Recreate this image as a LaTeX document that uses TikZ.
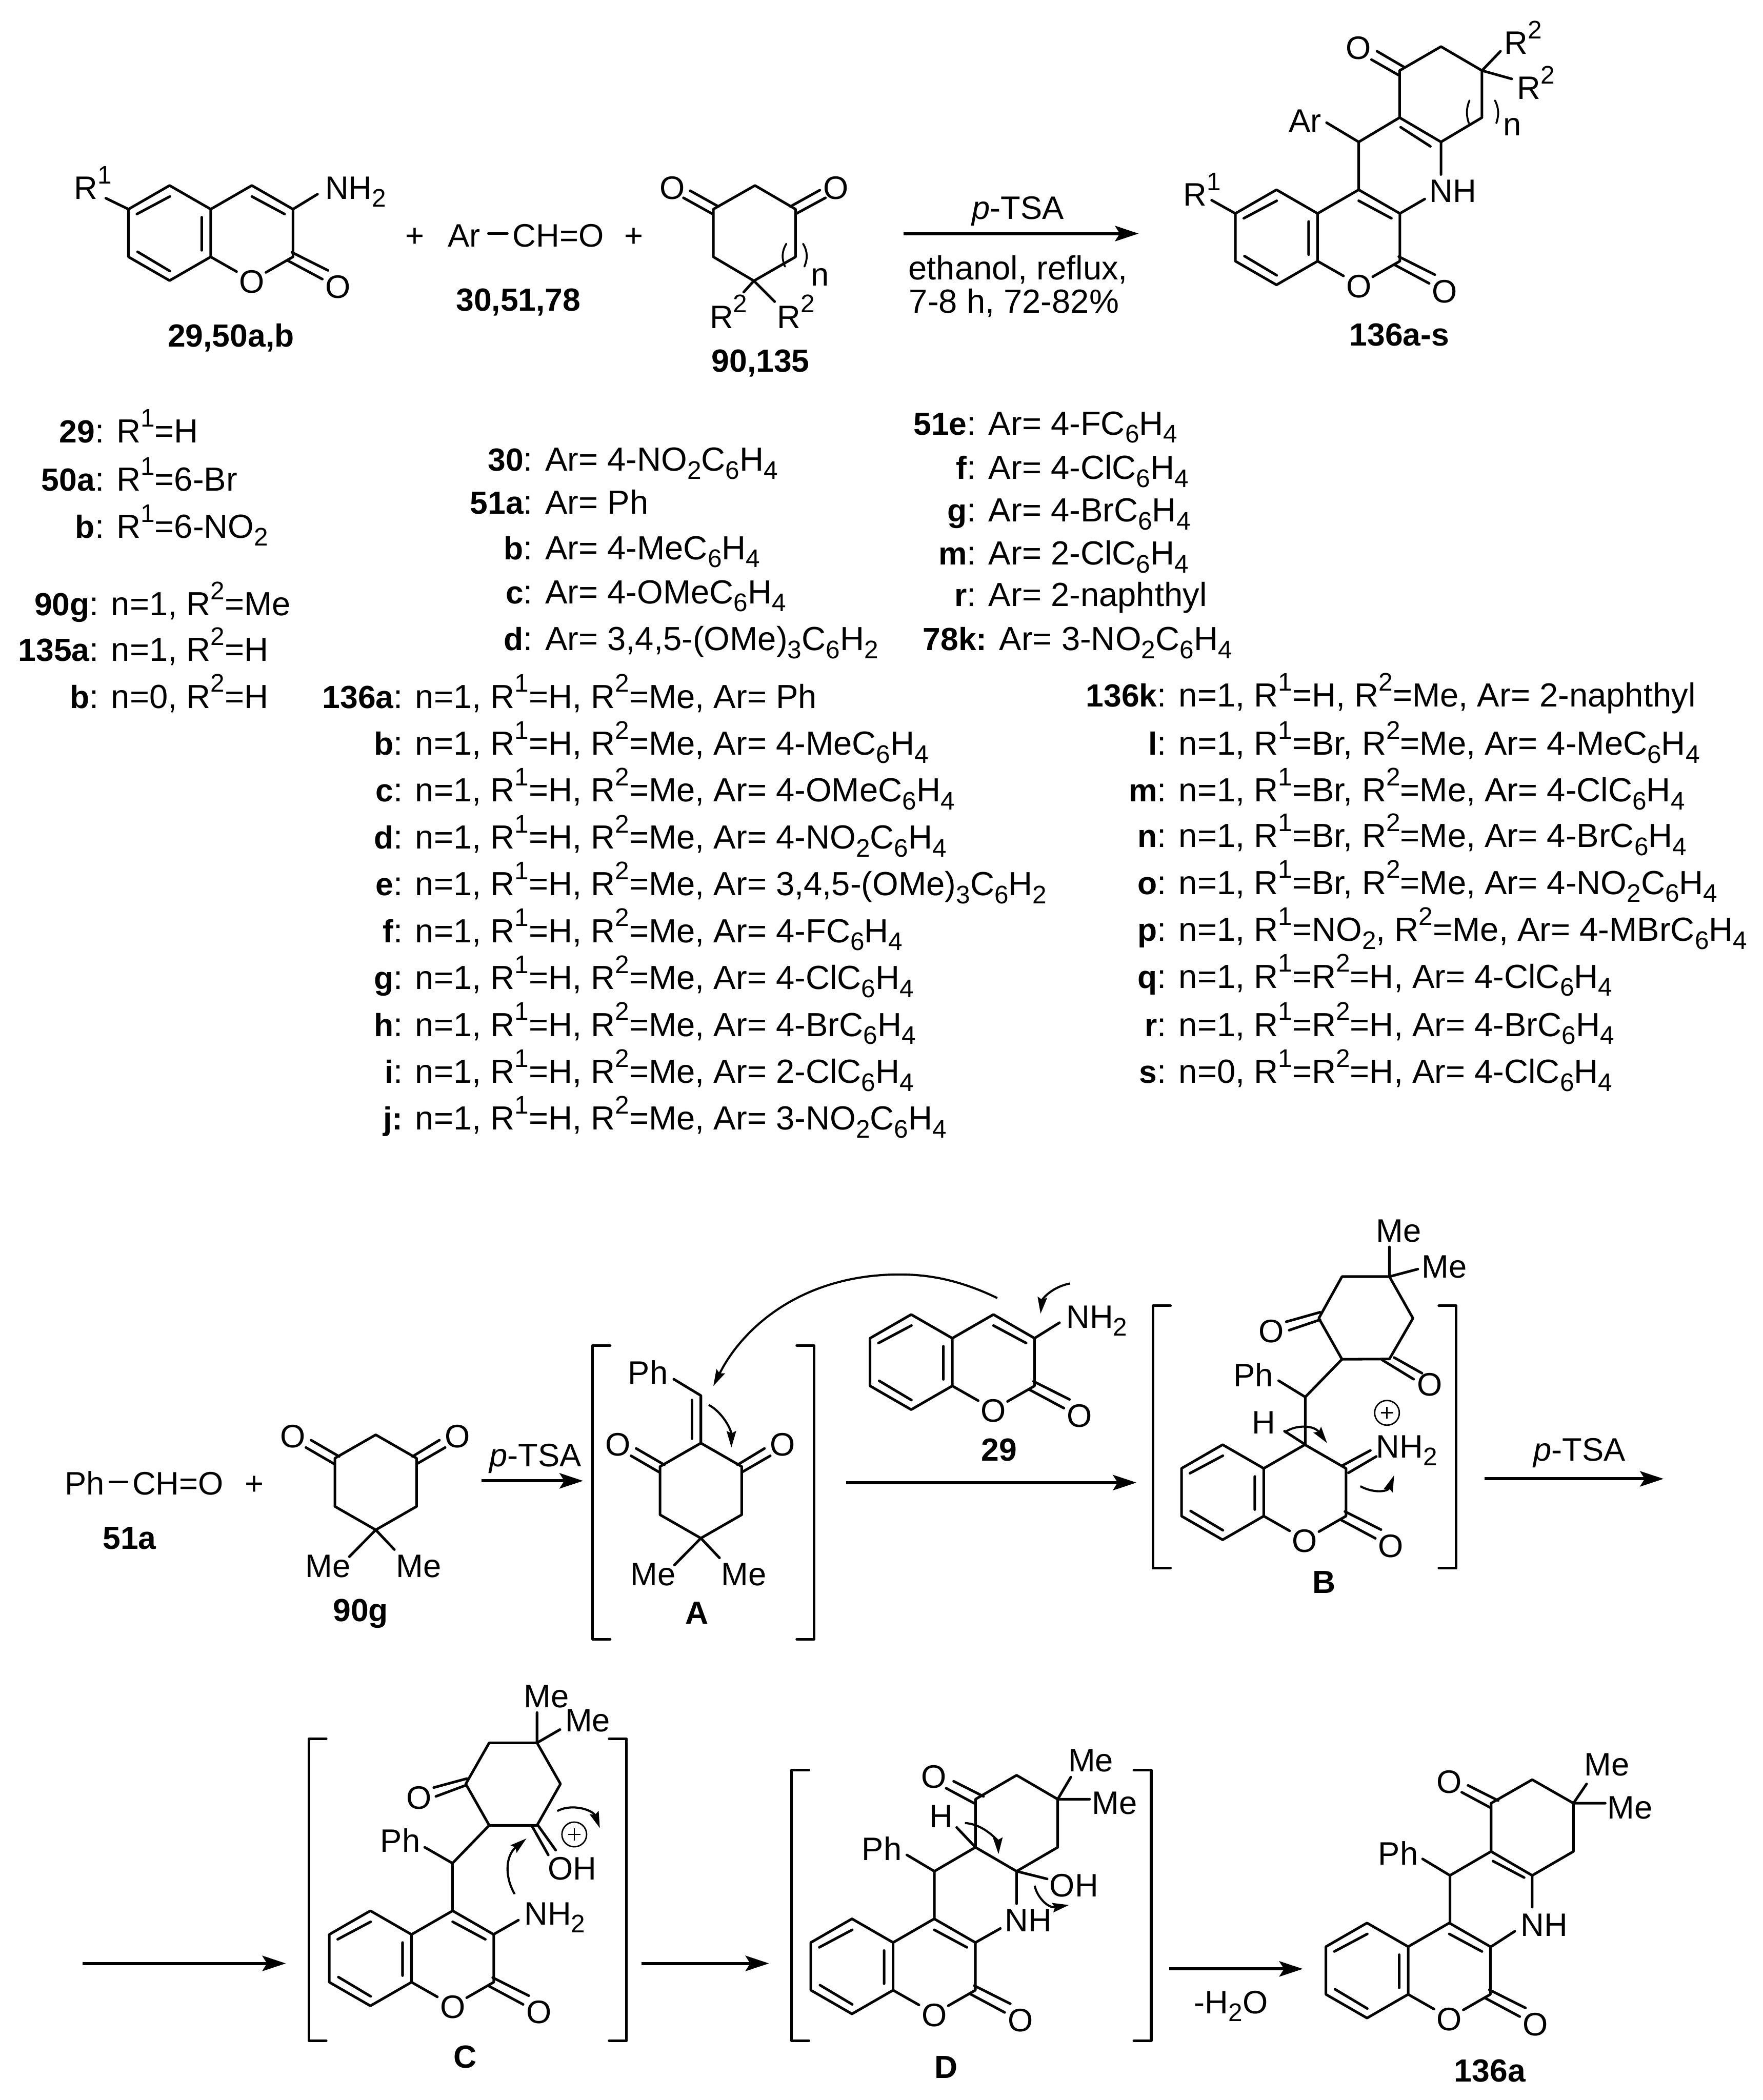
\documentclass[tikz,border=0pt]{standalone}
\usepackage{fontspec}
\setmainfont{Liberation Sans}
\usetikzlibrary{arrows.meta}
\newcommand\upi[1]{\raisebox{.48em}{\fontsize{10.8}{11}\selectfont #1}}
\newcommand\dni[1]{\raisebox{-.24em}{\fontsize{10.8}{11}\selectfont #1}}
\newcommand\lb[1]{{\fontsize{13.6}{16}\selectfont\bfseries #1}}
\tikzset{
  bond/.style={line width=1.1pt,line join=round,line cap=round},
  rxn/.style={line width=1.3pt,-{Stealth[length=10pt,width=6.5pt,inset=2pt]}},
  cur/.style={line width=.9pt,-{Stealth[length=7pt,width=4pt,inset=1pt]}},
  txt/.style={inner sep=0pt,outer sep=0pt,font=\fontsize{13.8}{16}\selectfont,text height=9.9pt,text depth=0pt},
  lbl/.style={txt,font=\fontsize{13.6}{16}\selectfont\bfseries},
  cond/.style={txt,font=\fontsize{14.2}{16}\selectfont},
  lft/.style={txt,anchor=west},
  lst/.style={cond,anchor=west},
  plusc/.style={circle,draw,line width=.6pt,minimum size=10.5pt,inner sep=0pt}
}
% coumarin: origin at the upper fusion atom
\newcommand\coumbase[1]{
  \draw[bond] (0,0)--(-30.7,-17.7)--(-61.4,0)--(-61.4,35.6)--(-30.7,53.3)--(0,35.6)--cycle;
  \draw[bond] (0,0)--(30.7,-17.7)--(61.4,0)--(61.4,35.6)--(41.2,47.2);
  \draw[bond] (0,35.6)--(19.3,46.6);
  \draw[bond] (-55.1,3.6)--(-30.5,-9.5) (-54.6,31.8)--(-30.5,46.2) (-6.7,6)--(-6.7,30.7);
  \draw[bond] (60.6,32.2)--(87.5,45.7) (57.2,38.2)--(83.3,52.2);
  \node[txt] (#1-O) at (30.7,54) {O};
  \node[txt] (#1-Ox) at (95,57.8) {O};
}
\newcommand\coum[1]{\coumbase{#1}\draw[bond] (30.7,-9.5)--(55.1,3.6);}
% dione ring: origin at CH2 apex
\newcommand\dione[1]{
  \draw[bond] (0,0)--(30.5,17.5)--(30.5,53.5)--(0,71)--(-30.5,53.5)--(-30.5,17.5)--cycle;
  \draw[bond] (-48.3,4)--(-27.3,16.2) (-52.1,9.5)--(-31.1,21.7);
  \draw[bond] (47.5,4)--(27.4,16.2) (51.8,9.5)--(30.7,21.7);
  \node[txt] (#1-OL) at (-61.8,0.7) {O};
  \node[txt] (#1-OR) at (61,0.7) {O};
  \draw[bond] (0,71)--(-19.7,91) (0,71)--(13.9,85.7);
  \node[txt] (#1-ML) at (-35.7,97.7) {Me};
  \node[txt] (#1-MR) at (32,97.7) {Me};
}
\newcommand\brk[4]{% x left, x right, y top, y bottom
  \draw[bond] (#1+13,#3)--(#1,#3)--(#1,#4)--(#1+13,#4);
  \draw[bond] (#2-13,#3)--(#2,#3)--(#2,#4)--(#2-13,#4);
}
\newcommand\ent[4]{\node[lst] (#1) at (#2,#3) {#4};}
\begin{document}
\begin{tikzpicture}[x=0.02cm,y=-0.02cm]
\useasboundingbox (0,0) rectangle (1316,1568);

% ---------- top equation
\begin{scope}[shift={(157.3,156.2)}]\coum{a}\end{scope}
\node[lft] (a-R) at (55.5,140) {R\upi{1}};
\draw[bond] (79,148)--(95.9,156.2);
\node[lft] (a-N) at (242.7,140) {NH\dni{2}};
\draw[bond] (218.7,156.2)--(237,145);
\node[lbl] (a-lab) at (172.4,250.4) {29,50a,b};

\node[txt] (p1) at (309.6,175.7) {+};
\node[lft] (arx) at (334.4,175.7) {Ar};
\node[lft] (cho) at (382.7,175.7) {CH=O};
\path (arx.east)++(6,-1.5) coordinate (ar1) (cho.west)++(-4,-1.5) coordinate (cho1);
\draw[bond] (ar1)--(cho1);
\node[txt] (p2) at (473,175.7) {+};
\node[lbl] (b-lab) at (387,223.3) {30,51,78};

% cyclic dione with n
\draw[bond] (532.5,156.2)--(563.6,138.5)--(593.9,156.2)--(593.9,191.8)--(562.8,209.7)--(532.5,191.8)--cycle;
\draw[bond] (515.2,142.4)--(536.3,154.2) (510.2,147.7)--(532,159.8);
\draw[bond] (612,142)--(590,154.2) (616.2,147.7)--(593.9,159.8);
\node[txt] (c-OL) at (501.8,140) {O};
\node[txt] (c-OR) at (624.2,140) {O};
\draw[bond] (562.8,209.7)--(555.2,218.1) (562.8,209.7)--(578.3,225.2);
\node[lft] (c-RL) at (529.9,236.4) {R\upi{2}};
\node[lft] (c-RR) at (580.3,236.4) {R\upi{2}};
\draw[bond,line width=.8pt] (587,182) .. controls (583.5,188) and (583.5,193) .. (586,199);
\draw[bond,line width=.8pt] (599.5,182) .. controls (603,188) and (603,193) .. (600.5,199);
\node[txt] (c-n) at (612,204.7) {n};
\node[lbl] (c-lab) at (567.8,269) {90,135};

\node[txt] (t1) at (760,155) {\textit{p}-TSA};
\coordinate (ra1) at (674.6,174.4); \coordinate (ra2) at (850,174.4);
\draw[rxn] (ra1)--(ra2);
\node[cond] (t2) at (760,200) {ethanol, reflux,};
\node[cond] (t3) at (757,225) {7-8 h, 72-82\%};

% product 136a-s
\begin{scope}[shift={(983.6,159.4)}]\coum{d}\end{scope}
\node[lft] (d-R) at (883.5,145) {R\upi{1}};
\draw[bond] (904.5,149.5)--(922.2,159.4);
\node[txt] (d-NH) at (1084.5,142.4) {NH};
\draw[bond] (1045,159.4)--(1063.6,148.6);
\draw[bond] (1014.3,141.7)--(1014.3,106)--(1044.8,87.8)--(1075.7,106)--(1075.7,130.3);
\draw[bond] (1045.6,95)--(1067.8,109.3);
\draw[bond] (1014.3,106)--(990.3,91.6);
\node[txt] (d-Ar) at (974.4,89.7) {Ar};
\draw[bond] (1044.8,87.8)--(1044.8,52.7)--(1075.7,34.8)--(1106.3,52.7)--(1106.3,87.8)--(1075.7,106);
\draw[bond] (1028,38.3)--(1048,50) (1023.8,44.5)--(1043.9,56);
\node[txt] (d-O) at (1014.2,35.5) {O};
\draw[bond] (1106.3,52.7)--(1120.1,38.3) (1106.3,52.7)--(1128.5,58.9);
\node[lft] (d-R2a) at (1123,31.8) {R\upi{2}};
\node[lft] (d-R2b) at (1132.5,65.4) {R\upi{2}};
\draw[bond,line width=.8pt] (1097,75) .. controls (1094.5,81) and (1094.5,86) .. (1096.5,92);
\draw[bond,line width=.8pt] (1116,75) .. controls (1119,81) and (1119,86) .. (1117,92);
\node[txt] (d-n) at (1129,92.5) {n};
\node[lbl] (d-lab) at (1044.7,249.5) {136a-s};

% ---------- substituent lists
\ent{l1}{87}{322}{\llap{\lb{29}: }R\upi{1}=H}
\ent{l2}{87}{358}{\llap{\lb{50a}: }R\upi{1}=6-Br}
\ent{l3}{87}{393}{\llap{\lb{b}: }R\upi{1}=6-NO\dni{2}}
\ent{l4}{83}{451}{\llap{\lb{90g}: }n=1, R\upi{2}=Me}
\ent{l5}{83}{485}{\llap{\lb{135a}: }n=1, R\upi{2}=H}
\ent{l6}{83}{520}{\llap{\lb{b}: }n=0, R\upi{2}=H}

\ent{m1}{407}{343}{\llap{\lb{30}: }Ar= 4-NO\dni{2}C\dni{6}H\dni{4}}
\ent{m2}{407}{375}{\llap{\lb{51a}: }Ar= Ph}
\ent{m3}{407}{409}{\llap{\lb{b}: }Ar= 4-MeC\dni{6}H\dni{4}}
\ent{m4}{407}{442}{\llap{\lb{c}: }Ar= 4-OMeC\dni{6}H\dni{4}}
\ent{m5}{407}{477}{\llap{\lb{d}: }Ar= 3,4,5-(OMe)\dni{3}C\dni{6}H\dni{2}}

\ent{n1}{738}{316}{\llap{\lb{51e}: }Ar= 4-FC\dni{6}H\dni{4}}
\ent{n2}{738}{349}{\llap{\lb{f}: }Ar= 4-ClC\dni{6}H\dni{4}}
\ent{n3}{738}{381}{\llap{\lb{g}: }Ar= 4-BrC\dni{6}H\dni{4}}
\ent{n4}{738}{413}{\llap{\lb{m}: }Ar= 2-ClC\dni{6}H\dni{4}}
\ent{n5}{738}{444}{\llap{\lb{r}: }Ar= 2-naphthyl}
\ent{n6}{746}{477}{\llap{\lb{78k:} }Ar= 3-NO\dni{2}C\dni{6}H\dni{4}}

\ent{p1l}{310}{520}{\llap{\lb{136a}: }n=1, R\upi{1}=H, R\upi{2}=Me, Ar= Ph}
\ent{p2l}{310}{555}{\llap{\lb{b}: }n=1, R\upi{1}=H, R\upi{2}=Me, Ar= 4-MeC\dni{6}H\dni{4}}
\ent{p3l}{310}{590}{\llap{\lb{c}: }n=1, R\upi{1}=H, R\upi{2}=Me, Ar= 4-OMeC\dni{6}H\dni{4}}
\ent{p4l}{310}{625}{\llap{\lb{d}: }n=1, R\upi{1}=H, R\upi{2}=Me, Ar= 4-NO\dni{2}C\dni{6}H\dni{4}}
\ent{p5l}{310}{660}{\llap{\lb{e}: }n=1, R\upi{1}=H, R\upi{2}=Me, Ar= 3,4,5-(OMe)\dni{3}C\dni{6}H\dni{2}}
\ent{p6l}{310}{695}{\llap{\lb{f}: }n=1, R\upi{1}=H, R\upi{2}=Me, Ar= 4-FC\dni{6}H\dni{4}}
\ent{p7l}{310}{730}{\llap{\lb{g}: }n=1, R\upi{1}=H, R\upi{2}=Me, Ar= 4-ClC\dni{6}H\dni{4}}
\ent{p8l}{310}{765}{\llap{\lb{h}: }n=1, R\upi{1}=H, R\upi{2}=Me, Ar= 4-BrC\dni{6}H\dni{4}}
\ent{p9l}{310}{800}{\llap{\lb{i}: }n=1, R\upi{1}=H, R\upi{2}=Me, Ar= 2-ClC\dni{6}H\dni{4}}
\ent{p10l}{310}{835}{\llap{\lb{j:} }n=1, R\upi{1}=H, R\upi{2}=Me, Ar= 3-NO\dni{2}C\dni{6}H\dni{4}}

\ent{q1}{880}{519}{\llap{\lb{136k}: }n=1, R\upi{1}=H, R\upi{2}=Me, Ar= 2-naphthyl}
\ent{q2}{880}{555}{\llap{\lb{l}: }n=1, R\upi{1}=Br, R\upi{2}=Me, Ar= 4-MeC\dni{6}H\dni{4}}
\ent{q3}{880}{590}{\llap{\lb{m}: }n=1, R\upi{1}=Br, R\upi{2}=Me, Ar= 4-ClC\dni{6}H\dni{4}}
\ent{q4}{880}{624}{\llap{\lb{n}: }n=1, R\upi{1}=Br, R\upi{2}=Me, Ar= 4-BrC\dni{6}H\dni{4}}
\ent{q5}{880}{659}{\llap{\lb{o}: }n=1, R\upi{1}=Br, R\upi{2}=Me, Ar= 4-NO\dni{2}C\dni{6}H\dni{4}}
\ent{q6}{880}{694}{\llap{\lb{p}: }n=1, R\upi{1}=NO\dni{2}, R\upi{2}=Me, Ar= 4-MBrC\dni{6}H\dni{4}}
\ent{q7}{880}{729}{\llap{\lb{q}: }n=1, R\upi{1}=R\upi{2}=H, Ar= 4-ClC\dni{6}H\dni{4}}
\ent{q8}{880}{765}{\llap{\lb{r}: }n=1, R\upi{1}=R\upi{2}=H, Ar= 4-BrC\dni{6}H\dni{4}}
\ent{q9}{880}{800}{\llap{\lb{s}: }n=0, R\upi{1}=R\upi{2}=H, Ar= 4-ClC\dni{6}H\dni{4}}

% ---------- mechanism row 1
\node[lft] (e-ph) at (48.4,1107.5) {Ph};
\node[lft] (e-cho) at (98.8,1107.5) {CH=O};
\path (e-ph.east)++(4,-1) coordinate (e1) (e-cho.west)++(-4,-1) coordinate (e2);
\draw[bond] (e1)--(e2);
\node[txt] (e-p) at (190,1107.5) {+};
\node[lbl] (e-lab) at (96.7,1148) {51a};
\begin{scope}[shift={(280.5,1071.3)}]\dione{f}\end{scope}
\node[lbl] (f-lab) at (269.2,1201.8) {90g};
\coordinate (ra3) at (359.6,1105.7); \coordinate (ra4) at (435.3,1105.7);
\draw[rxn] (ra3)--(ra4);
\node[txt] (t4) at (399.6,1086.4) {\textit{p}-TSA};

% A
\brk{442.5}{607.8}{1004.7}{1224}
\begin{scope}[shift={(523.2,1077.5)}]\dione{g}\end{scope}
\draw[bond] (523.2,1077.5)--(523.2,1042)--(503,1029.8);
\draw[bond] (516.5,1045.3)--(516.5,1074.2);
\node[txt] (g-ph) at (483.7,1024.7) {Ph};
\draw[cur] (529.1,1049) .. controls (540,1055) and (546,1068) .. (546,1080.8);
\node[lbl] (g-lab) at (520.3,1204) {A};
\draw[cur] (744.5,969.2) .. controls (715,955) and (692,951.6) .. (671.5,951.6) .. controls (600,951.6) and (555,990) .. (532.5,1034.9);

\coordinate (ra5) at (631.7,1107); \coordinate (ra6) at (848.4,1107);
\draw[rxn] (ra5)--(ra6);

% 29
\begin{scope}[shift={(710.9,999.2)}]\coum{h}\end{scope}
\node[lft] (h-N) at (796,983) {NH\dni{2}};
\draw[bond] (772.3,999.2)--(790.9,987.6);
\draw[cur] (798.9,958.3) .. controls (785,961) and (778,970) .. (776.8,980.9);
\node[lbl] (h-lab) at (745.8,1082) {29};

% B
\brk{860.8}{1087.1}{975}{1170.8}
\begin{scope}[shift={(943.4,1096.4)}]\coumbase{i}\end{scope}
\draw[bond] (1002.2,1094.2)--(1023,1083) (1006.6,1099.7)--(1027.4,1087.5);
\node[lft] (i-N) at (1027.4,1079.7) {NH\dni{2}};
\node[plusc] (i-plus) at (1035.4,1054.9) {};
\draw[line width=.6pt] (1035.4,1050.4)--(1035.4,1059.4) (1030.9,1054.9)--(1039.9,1054.9);
\node[txt] (i-H) at (943.4,1062) {H};
\draw[bond] (958.9,1068.6)--(974.4,1078.6)--(974.4,1043.1)--(954.5,1030.9);
\node[txt] (i-ph) at (935.5,1026.5) {Ph};
\draw[bond] (974.4,1043.1)--(1001.8,1014.9);
\draw[bond] (1001.8,1014.9)--(1037.2,1014.7)--(1054.8,984.3)--(1037.2,953.2)--(1001.8,953.2)--(984.5,984.3)--cycle;
\draw[bond] (985.4,979.8)--(960.2,986.9) (985.4,985.4)--(962.4,993.2);
\node[txt] (i-O1) at (949.2,993.6) {O};
\draw[bond] (1040.7,1013.6)--(1061.5,1025.3) (1031.8,1015.4)--(1055.3,1029.8);
\node[txt] (i-O2) at (1067.2,1033.6) {O};
\draw[bond] (1037.2,953.2)--(1037.2,931) (1037.2,953.2)--(1058.4,947.6);
\node[txt] (i-M1) at (1044.2,918.8) {Me};
\node[txt] (i-M2) at (1078.3,945.4) {Me};
\draw[cur] (958.9,1069.7) .. controls (965,1064.5) and (980,1063) .. (990.7,1077.5);
\draw[cur] (1015.5,1109.7) .. controls (1025,1115) and (1036,1114) .. (1040.7,1101.5);
\node[lbl] (i-lab) at (988.5,1180.7) {B};
\coordinate (ra7) at (1108.3,1104.2); \coordinate (ra8) at (1241.9,1104.2);
\draw[rxn] (ra7)--(ra8);
\node[txt] (t5) at (1179,1082) {\textit{p}-TSA};

% ---------- row 2
\coordinate (ra9) at (61.7,1466); \coordinate (ra10) at (213.4,1466);
\draw[rxn] (ra9)--(ra10);

% C
\brk{230.5}{467.7}{1298.2}{1523.7}
\begin{scope}[shift={(307.2,1444.4)}]\coum{j}\end{scope}
\node[lft] (j-N) at (391.4,1428.6) {NH\dni{2}};
\draw[bond] (368.3,1444.4)--(387,1433.7);
\draw[bond] (337.8,1426.6)--(337.8,1391.2)--(317.1,1379.3);
\node[txt] (j-ph) at (298.8,1374.2) {Ph};
\draw[bond] (337.8,1391.2)--(365.2,1362.9);
\draw[bond] (365.2,1362.9)--(400.9,1362.9)--(418.4,1332)--(400.9,1301.3)--(365.2,1301.3)--(347.7,1332)--cycle;
\draw[bond] (348.5,1328)--(323.8,1334.7) (347.7,1333)--(325.4,1341.3);
\node[txt] (j-O) at (312.7,1342) {O};
\draw[bond] (401.3,1362.5)--(414.8,1381.4) (397.4,1363.9)--(409.3,1385);
\node[txt] (j-OH) at (427.1,1394.7) {OH};
\node[plusc] (j-plus) at (428.7,1369.7) {};
\draw[line width=.6pt] (428.7,1365.2)--(428.7,1374.2) (424.2,1369.7)--(433.2,1369.7);
\draw[bond] (400.9,1301.3)--(400.9,1278.7) (400.9,1301.3)--(418,1291.4);
\node[txt] (j-M1) at (408,1266.3) {Me};
\node[txt] (j-M2) at (438.7,1284.4) {Me};
\draw[cur] (416,1352.2) .. controls (428,1346) and (443,1352) .. (447.8,1365);
\draw[cur] (384.2,1414.2) .. controls (376,1400) and (378,1385) .. (393,1372.7);
\node[lbl] (j-lab) at (347.3,1535.4) {C};
\coordinate (ra11) at (478.8,1466); \coordinate (ra12) at (574.1,1466);
\draw[rxn] (ra11)--(ra12);

% D
\brk{590.9}{859.4}{1321.8}{1523.7}
\begin{scope}[shift={(666.7,1450.4)}]\coum{k}\end{scope}
\node[txt] (k-NH) at (767.7,1433.7) {NH};
\draw[bond] (728.2,1450.4)--(746.8,1439.9);
\draw[bond] (697.5,1432.3)--(697.5,1397.2)--(677,1385);
\node[txt] (k-ph) at (658.3,1380.3) {Ph};
\draw[bond] (697.5,1397.2)--(728.2,1379.3);
\draw[bond] (728.2,1379.3)--(758.9,1397.2)--(789.6,1379.3)--(789.6,1343.4)--(758.9,1325.5)--(728.2,1343.4)--cycle;
\draw[bond] (758.9,1397.2)--(758.9,1421.4);
\draw[bond] (711.9,1330)--(734.2,1341.3) (706.3,1335.2)--(727.2,1346.4);
\node[txt] (k-O) at (697,1326.5) {O};
\draw[bond] (789.6,1343.4)--(799.4,1326.9) (789.6,1343.4)--(813.4,1343.4);
\node[txt] (k-M1) at (814.3,1314.2) {Me};
\node[txt] (k-M2) at (832,1345.8) {Me};
\node[txt] (k-H) at (702.6,1355.7) {H};
\draw[bond] (714.2,1364.5)--(728.2,1379.3);
\draw[bond] (758.9,1397.2)--(781.7,1402.9);
\node[txt] (k-OH) at (801.7,1407.4) {OH};
\draw[cur] (720.3,1361.2) .. controls (735,1362) and (745,1375) .. (745.4,1384.4);
\draw[cur] (772.4,1408) .. controls (774,1416) and (782,1425) .. (798,1422.4);
\node[lbl] (k-lab) at (706.3,1543.2) {D};
\coordinate (ra13) at (872.9,1470.1); \coordinate (ra14) at (972.6,1470.1);
\draw[rxn] (ra13)--(ra14);
\node[txt] (t6) at (919,1494.7) {-H\dni{2}O};

% 136a
\begin{scope}[shift={(1051.2,1453.5)}]\coum{o}\end{scope}
\node[txt] (o-NH) at (1152.7,1436.8) {NH};
\draw[bond] (1113.1,1453.5)--(1130.8,1442);
\draw[bond] (1082.4,1435.4)--(1082.4,1400.3)--(1062,1388);
\node[txt] (o-ph) at (1043.8,1383.8) {Ph};
\draw[bond] (1082.4,1400.3)--(1113.1,1382.4)--(1143.8,1400.3)--(1143.8,1424);
\draw[bond] (1114.5,1389.6)--(1137.8,1401.9);
\draw[bond] (1113.1,1382.4)--(1113.1,1346.4)--(1143.8,1328.8)--(1174.6,1346.4)--(1174.6,1382.4)--(1143.8,1400.3);
\draw[bond] (1095.9,1333.1)--(1118.4,1344.4) (1091.2,1338.2)--(1112.2,1349.5);
\node[txt] (o-O) at (1081.9,1330) {O};
\draw[bond] (1174.6,1346.4)--(1184.4,1332) (1174.6,1346.4)--(1198.3,1346.4);
\node[txt] (o-M1) at (1199.7,1317.3) {Me};
\node[txt] (o-M2) at (1216.9,1349.5) {Me};
\node[lbl] (o-lab) at (1112.2,1545.7) {136a};
\end{tikzpicture}
\end{document}
